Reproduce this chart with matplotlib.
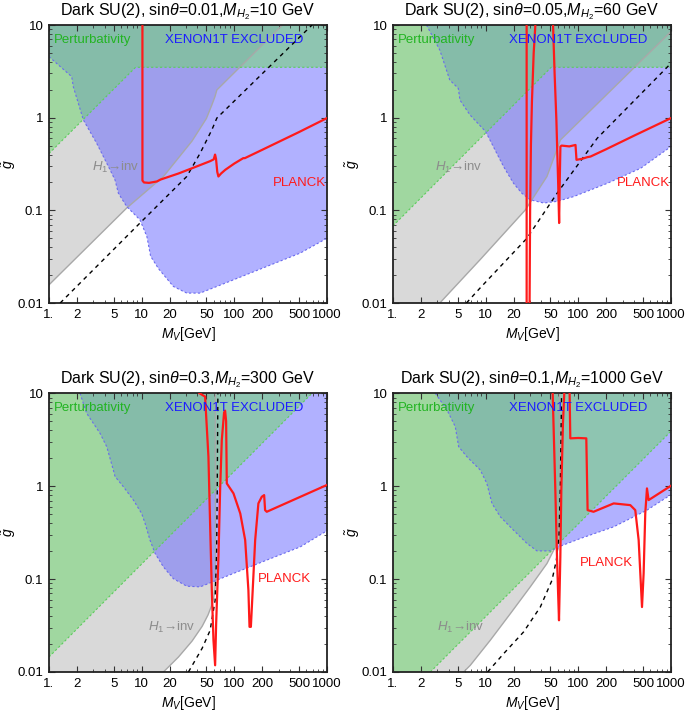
import numpy as np
import matplotlib
matplotlib.use("Agg")
import matplotlib.pyplot as plt
from matplotlib.ticker import FixedLocator, FixedFormatter, NullFormatter

plt.rcParams['font.family'] = ['Liberation Sans', 'DejaVu Sans']
plt.rcParams['mathtext.fontset'] = 'custom'
plt.rcParams['mathtext.rm'] = 'Liberation Sans'
plt.rcParams['mathtext.it'] = 'Liberation Sans:italic'

# ---- panel 1: sin(theta)=0.01, M_H2=10 GeV
P1_PERT_X = [1, 8.6, 1000]
P1_PERT_G = [0.41, 3.5, 3.5]
P1_XENON_X = [1, 1.76, 1.83, 2.35, 3.27, 4.38, 5.16, 5.61, 6.9, 9.6, 11.4, 12.5, 15.2,
              22, 30.7, 42.8, 64.8, 98, 224, 515, 1000]
P1_XENON_G = [4.56, 2.77, 2.16, 0.946, 0.53, 0.297, 0.213, 0.153, 0.11, 0.079, 0.052, 0.032,
              0.0235, 0.0151, 0.0128, 0.0128, 0.0151, 0.0178, 0.0248, 0.0346, 0.05]
P1_INV_X = [1, 6.9, 17.2, 35, 50, 57.2, 62, 64.8, 330]
P1_INV_G = [0.0157, 0.106, 0.232, 0.56, 0.98, 1.37, 1.7, 1.99, 10]
P1_DASH_X = [1.32, 9.6, 30.7, 42.8, 57.2, 64.8, 690]
P1_DASH_G = [0.01, 0.073, 0.232, 0.414, 0.738, 0.99, 10]
P1_RELIC = [
    ([10.2, 10.2, 10.6, 12, 14.6, 16, 25, 40, 55, 60, 62, 63.5, 65.5, 67.4, 72, 80, 100,
      125, 130, 200, 500, 1000],
     [10, 0.21, 0.2, 0.198, 0.205, 0.215, 0.25, 0.3, 0.34, 0.355, 0.4, 0.36, 0.26, 0.232,
      0.25, 0.274, 0.32, 0.366, 0.366, 0.45, 0.7, 0.99]),
]

# ---- panel 2: sin(theta)=0.05, M_H2=60 GeV
P2_PERT_X = [1, 51, 1000]
P2_PERT_G = [0.068, 3.5, 3.5]
P2_XENON_X = [2.3, 3.2, 4.1, 5.07, 5.28, 6.78, 10, 12.1, 15.6, 20, 24.6, 30.3, 42.3, 59,
              89.5, 206, 472, 1000]
P2_XENON_G = [10, 5.37, 2.55, 2.07, 1.55, 1.07, 0.708, 0.488, 0.297, 0.196, 0.153, 0.13,
              0.12, 0.125, 0.141, 0.196, 0.285, 0.488]
P2_INV_X = [3.2, 8.7, 26.8, 45.9, 64.1, 1000]
P2_INV_G = [0.01, 0.0293, 0.101, 0.232, 0.575, 8.5]
P2_DASH_X = [6.2, 8.7, 27.9, 59, 160, 1000]
P2_DASH_G = [0.01, 0.0145, 0.05, 0.153, 0.6, 3.86]
P2_RELIC = [
    ([27.7, 27.7, 28.7, 29.8, 30.2, 30.8, 31.6, 33, 34.4],
     [10, 0.01, 0.003, 0.01, 0.1, 0.5, 1.5, 5, 10]),
    ([53.4, 55.5, 58, 60.5, 62.1, 63.1, 64.1, 66, 80, 93.3, 94.5, 95.6, 110, 125, 135.6,
      200, 400, 1000],
     [10, 3, 0.946, 0.213, 0.073, 0.213, 0.488, 0.5, 0.49, 0.508, 0.42, 0.351, 0.36, 0.375,
      0.381, 0.457, 0.64, 0.99]),
]

# ---- panel 3: sin(theta)=0.3, M_H2=300 GeV
P3_PERT_X = [1, 690]
P3_PERT_G = [0.0145, 10]
P3_XENON_X = [2.16, 2.55, 3.56, 4.2, 4.95, 5.16, 6.35, 8.15, 10, 10.9, 12.3, 14, 17.2, 22,
              30.7, 42.8, 64.8, 98, 224, 515, 1000]
P3_XENON_G = [10, 6.09, 3.7, 2.66, 1.49, 1.27, 0.987, 0.708, 0.508, 0.397, 0.263, 0.188,
              0.135, 0.101, 0.0838, 0.0824, 0.0973, 0.115, 0.16, 0.222, 0.331]
P3_INV_X = [17.2, 25, 35, 45, 52, 57, 60, 62, 62.5, 62.5]
P3_INV_G = [0.01, 0.0145, 0.0215, 0.031, 0.041, 0.052, 0.063, 0.08, 0.1, 10]
P3_DASH_X = [32, 45, 54.8, 62.1, 64.5, 65.5, 66.5]
P3_DASH_G = [0.01, 0.018, 0.028, 0.059, 0.2, 1, 10]
P3_RELIC = [
    ([42.1, 48.4, 52.6, 54.8, 57.2, 59.6, 62.1, 63.7, 67.5, 70.3, 73.3, 77.6, 79.6, 81.6,
      83, 98, 116, 131, 142, 146, 151, 158, 168, 182, 198, 210, 215, 224, 1000],
     [10, 9.2, 2.07, 0.397, 0.0759, 0.0219, 0.0118, 0.0332, 0.173, 0.908, 3.14, 6.2, 6.5,
      5.0, 1.07, 0.836, 0.508, 0.263, 0.0759, 0.0306, 0.0306, 0.0759, 0.263, 0.652, 0.769,
      0.801, 0.552, 0.53, 1.03]),
]

# ---- panel 4: sin(theta)=0.1, M_H2=1000 GeV
P4_PERT_X = [2.53, 1000]
P4_PERT_G = [0.01, 3.9]
P4_XENON_X = [2.86, 3.83, 4.7, 5.11, 6.29, 8.76, 10.3, 11.7, 14.4, 20, 27.9, 35.8, 49.9,
              64, 105, 241, 551, 1000]
P4_XENON_G = [10, 6.61, 4.37, 2.66, 2.07, 1.49, 1.07, 0.652, 0.468, 0.336, 0.242, 0.201,
              0.201, 0.226, 0.273, 0.365, 0.552, 0.81]
P4_INV_X = [5.79, 6.83, 11.2, 18.5, 30.3, 45.9, 56.5, 60, 62.5, 62.5]
P4_INV_G = [0.01, 0.0118, 0.0219, 0.0425, 0.0824, 0.147, 0.222, 0.3, 0.45, 10]
P4_DASH_X = [10.5, 15.6, 25.7, 38.9, 52, 58, 62, 64, 66]
P4_DASH_G = [0.01, 0.0157, 0.027, 0.05, 0.097, 0.16, 0.3, 1, 10]
P4_RELIC = [
    ([52.9, 56.5, 58.9, 60.4, 61.9, 64, 65.6, 68.3, 70.6],
     [10, 0.908, 0.173, 0.0759, 0.036, 0.173, 0.908, 4.75, 10]),
    ([80.6, 82, 100, 122, 126, 146, 241, 364, 412, 448, 487, 507, 528, 551, 574, 1000],
     [10, 3.27, 3.3, 3.27, 0.552, 0.53, 0.652, 0.625, 0.552, 0.263, 0.05, 0.115, 0.508,
      0.946, 0.708, 1.01]),
]

TITLES = [r'Dark SU(2), sin$\theta$=0.01,$M_{H_2}$=10 GeV',
          r'Dark SU(2), sin$\theta$=0.05,$M_{H_2}$=60 GeV',
          r'Dark SU(2), sin$\theta$=0.3,$M_{H_2}$=300 GeV',
          r'Dark SU(2), sin$\theta$=0.1,$M_{H_2}$=1000 GeV']

X_TICKS = [1, 2, 5, 10, 20, 50, 100, 200, 500, 1000]
X_TICK_LABELS = ['1.', '2', '5', '10', '20', '50', '100', '200', '500', '1000']
Y_TICKS = [0.01, 0.1, 1, 10]
Y_TICK_LABELS = ['0.01', '0.1', '1', '10']

# label anchor positions (axes fraction): H1->inv, PLANCK
INV_POS = [(0.155, 0.489), (0.151, 0.489), (0.356, 0.158), (0.158, 0.158)]
PLANCK_POS = [(0.806, 0.432), (0.806, 0.432), (0.752, 0.333), (0.673, 0.391)]

PANELS = [
    (P1_PERT_X, P1_PERT_G, P1_XENON_X, P1_XENON_G, P1_INV_X, P1_INV_G, P1_DASH_X, P1_DASH_G, P1_RELIC),
    (P2_PERT_X, P2_PERT_G, P2_XENON_X, P2_XENON_G, P2_INV_X, P2_INV_G, P2_DASH_X, P2_DASH_G, P2_RELIC),
    (P3_PERT_X, P3_PERT_G, P3_XENON_X, P3_XENON_G, P3_INV_X, P3_INV_G, P3_DASH_X, P3_DASH_G, P3_RELIC),
    (P4_PERT_X, P4_PERT_G, P4_XENON_X, P4_XENON_G, P4_INV_X, P4_INV_G, P4_DASH_X, P4_DASH_G, P4_RELIC),
]

AX_POS = [(0.0715, 0.5738, 0.4058, 0.391), (0.5737, 0.5738, 0.4058, 0.391),
          (0.0715, 0.0549, 0.4058, 0.392), (0.5737, 0.0549, 0.4058, 0.392)]

XMIN, XMAX, YMIN, YMAX = 1, 1000, 0.01, 10

fig = plt.figure(figsize=(6.85, 7.11), dpi=100)

minor_x = [m * d for d in (1, 10, 100) for m in range(2, 10) if m * d not in X_TICKS]
minor_y = [m * d for d in (0.01, 0.1, 1) for m in range(2, 10)]

for i, (px, pg, bx, bg, ix, ig, dx, dg, relic) in enumerate(PANELS):
    ax = fig.add_axes(AX_POS[i])
    ax.set_xscale('log')
    ax.set_yscale('log')

    # gray: H1 -> inv
    ax.fill(ix + [XMAX, XMIN, XMIN], ig + [YMAX, YMAX, YMIN],
            color='#000000', alpha=0.15, lw=0, zorder=1)
    ax.plot(ix, ig, color='#a8a8a8', lw=1.0, zorder=2)
    # blue: XENON1T
    ax.fill(bx + [XMAX, XMIN], bg + [YMAX, YMAX],
            color='#6464ff', alpha=0.5, lw=0, zorder=1)
    ax.plot(bx, bg, color='#6a6aee', lw=0.8, dashes=(2, 2), zorder=2)
    # green: perturbativity
    ax.fill(px + [XMAX, XMIN, XMIN], pg + [YMAX, YMAX, YMIN],
            color='#72d672', alpha=0.55, lw=0, zorder=1)
    ax.plot(px, pg, color='#5ccc5c', lw=0.8, dashes=(2, 2), zorder=2)

    ax.plot(dx, dg, color='black', lw=1.0, dashes=(3, 3), zorder=3)
    for rx, rg in relic:
        ax.plot(rx, rg, color='#ff1a1a', lw=1.6, zorder=4, solid_joinstyle='round')

    ax.set_xlim(XMIN, XMAX)
    ax.set_ylim(YMIN, YMAX)
    ax.xaxis.set_major_locator(FixedLocator(X_TICKS))
    ax.xaxis.set_major_formatter(FixedFormatter(X_TICK_LABELS))
    ax.xaxis.set_minor_locator(FixedLocator(minor_x))
    ax.xaxis.set_minor_formatter(NullFormatter())
    ax.yaxis.set_major_locator(FixedLocator(Y_TICKS))
    ax.yaxis.set_major_formatter(FixedFormatter(Y_TICK_LABELS))
    ax.yaxis.set_minor_locator(FixedLocator(minor_y))
    ax.yaxis.set_minor_formatter(NullFormatter())
    ax.tick_params(which='both', direction='in', top=True, right=True, labelsize=9.5,
                   color='#333333')
    ax.tick_params(axis='x', pad=4)
    ax.tick_params(axis='y', pad=4)
    ax.tick_params(which='major', length=4, width=0.8)
    ax.tick_params(which='minor', length=2, width=0.6)
    for sp in ax.spines.values():
        sp.set_linewidth(1.3)
        sp.set_color('#222222')

    ax.set_title(TITLES[i], fontsize=11.5, pad=7)
    ax.set_xlabel(r'$M_V$[GeV]', fontsize=10, labelpad=3)
    ax.set_ylabel(r'$\tilde{g}$', fontsize=10, labelpad=0)

    ax.text(0.018, 0.946, 'Perturbativity', transform=ax.transAxes, color='#22b422',
            fontsize=9.5, va='center', ha='left', zorder=5)
    ax.text(0.417, 0.946, 'XENON1T EXCLUDED', transform=ax.transAxes, color='#1c1cff',
            fontsize=9.5, va='center', ha='left', zorder=5)
    ax.text(INV_POS[i][0], INV_POS[i][1], r'$H_1$→inv', transform=ax.transAxes,
            color='#8c8c8c', fontsize=9.5, va='center', ha='left', zorder=5)
    ax.text(PLANCK_POS[i][0], PLANCK_POS[i][1], 'PLANCK', transform=ax.transAxes,
            color='#ff1a1a', fontsize=9.5, va='center', ha='left', zorder=5)

fig.savefig('out.png', dpi=100)
